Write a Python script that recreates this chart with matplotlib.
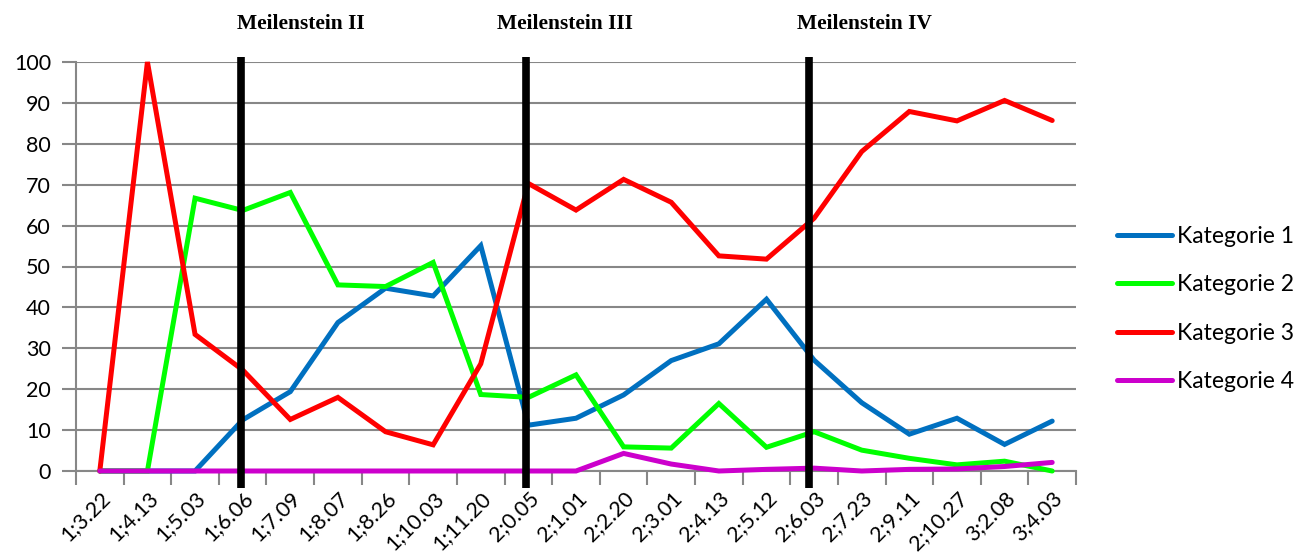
import numpy as np
import matplotlib.pyplot as plt
from matplotlib.transforms import blended_transform_factory

# age at recording (years;months.days)
ages = ["1;3.22", "1;4.13", "1;5.03", "1;6.06", "1;7.09", "1;8.07", "1;8.26",
        "1;10.03", "1;11.20", "2;0.05", "2;1.01", "2;2.20", "2;3.01", "2;4.13",
        "2;5.12", "2;6.03", "2;7.23", "2;9.11", "2;10.27", "3;2.08", "3;4.03"]

kat1 = [0, 0, 0, 12.5, 19.4, 36.3, 44.7, 42.8, 55.1, 11.2, 12.9, 18.6, 27.0,
        31.1, 42.0, 27.1, 16.7, 9.0, 12.9, 6.5, 12.2]
kat2 = [0, 0, 66.7, 63.7, 68.1, 45.5, 45.1, 51.0, 18.7, 18.0, 23.5, 5.9, 5.6,
        16.5, 5.8, 9.6, 5.1, 3.1, 1.5, 2.4, 0]
kat3 = [0, 100, 33.4, 24.7, 12.6, 18.0, 9.6, 6.4, 26.2, 70.3, 63.8, 71.3, 65.7,
        52.6, 51.8, 61.8, 78.1, 87.9, 85.6, 90.6, 85.7]
kat4 = [0, 0, 0, 0, 0, 0, 0, 0, 0, 0, 0, 4.3, 1.7, 0, 0.4, 0.7, 0, 0.4, 0.5,
        1.1, 2.1]

series = [("Kategorie 1", kat1, "#0070C0"),
          ("Kategorie 2", kat2, "#00FF00"),
          ("Kategorie 3", kat3, "#FF0000"),
          ("Kategorie 4", kat4, "#CC00CC")]

# milestone markers: position on the category axis and label
milestones = [2.96, 8.95, 14.9]
milestone_labels = ["Meilenstein II", "Meilenstein III", "Meilenstein IV"]
label_x = [2.88, 8.34, 14.64]

plt.rcParams['font.family'] = ['Lato', 'DejaVu Sans']

fig = plt.figure(figsize=(13.11, 5.59), dpi=100)
ax = fig.add_axes([76 / 1311, 1 - 471 / 559, 1000 / 1311, 409 / 559])

x = np.arange(len(ages))
for name, vals, col in series:
    ax.plot(x, vals, color=col, lw=3.6, label=name, solid_capstyle='round',
            solid_joinstyle='miter', clip_on=False, zorder=3)

ax.set_xlim(-0.5, len(ages) - 0.5)
ax.set_ylim(0, 100)
ax.set_yticks(np.arange(0, 101, 10))
ax.yaxis.grid(True, color="#878787", lw=1.5)
ax.set_axisbelow(True)

# category boundaries carry the tick marks, labels sit at the centres
ax.set_xticks(np.arange(-0.5, len(ages), 1.0))
ax.set_xticklabels([])
ax.set_xticks(x, minor=True)
ax.set_xticklabels(ages, minor=True, rotation=45, ha='right',
                   rotation_mode='anchor', fontsize=15.5)
ax.tick_params(axis='x', which='minor', length=0, pad=12)
ax.tick_params(axis='x', which='major', length=10, width=1.5, color="#878787")
ax.tick_params(axis='y', length=10, width=1.5, color="#878787", labelsize=15.5,
               pad=8)

for side in ['top', 'right']:
    ax.spines[side].set_visible(False)
for side in ['left', 'bottom']:
    ax.spines[side].set_color("#878787")
    ax.spines[side].set_linewidth(1.5)

trans = blended_transform_factory(ax.transData, ax.transAxes)
for mx in milestones:
    ax.plot([mx, mx], [1.012, -0.042], color='black', lw=5.5, transform=trans,
            clip_on=False, zorder=5, solid_capstyle='butt')
for lx, txt in zip(label_x, milestone_labels):
    ax.text(lx, 1.093, txt, transform=trans, ha='left', va='center',
            fontsize=15.5, fontweight='bold', family='Liberation Serif')

fig.legend(loc='center left', bbox_to_anchor=(1117 / 1311, 1 - 309 / 559),
           frameon=False, fontsize=16.5, handlelength=2.4, handletextpad=0.22,
           labelspacing=1.2, borderpad=0, borderaxespad=0)

fig.savefig("out.png", dpi=100)
